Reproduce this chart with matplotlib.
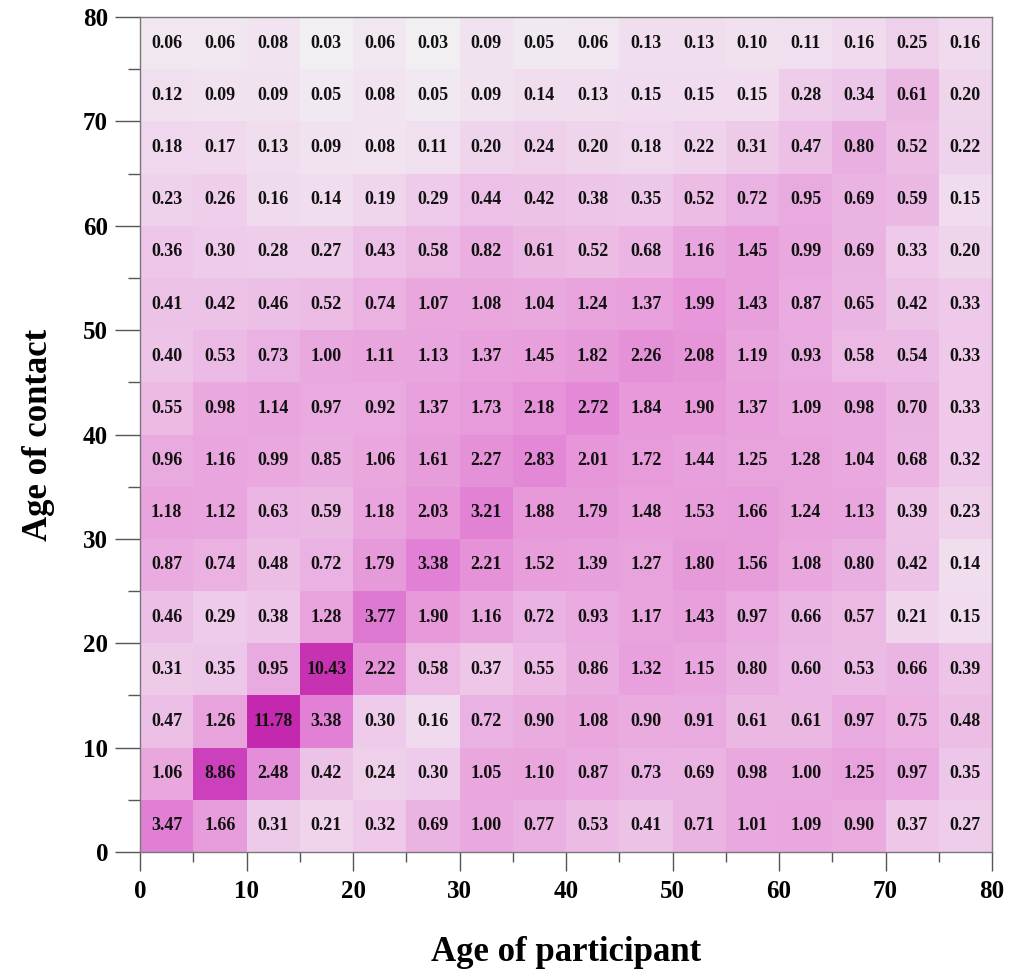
import numpy as np
import matplotlib
matplotlib.use('Agg')
import matplotlib.pyplot as plt
from matplotlib.colors import LinearSegmentedColormap, LogNorm

# rows from top (age of contact 75-80) to bottom (0-5)
contact_edges = np.arange(0, 85, 5)
participant_edges = np.arange(0, 85, 5)

rows_top_down = [
    [0.06, 0.06, 0.08, 0.03, 0.06, 0.03, 0.09, 0.05, 0.06, 0.13, 0.13, 0.10, 0.11, 0.16, 0.25, 0.16],
    [0.12, 0.09, 0.09, 0.05, 0.08, 0.05, 0.09, 0.14, 0.13, 0.15, 0.15, 0.15, 0.28, 0.34, 0.61, 0.20],
    [0.18, 0.17, 0.13, 0.09, 0.08, 0.11, 0.20, 0.24, 0.20, 0.18, 0.22, 0.31, 0.47, 0.80, 0.52, 0.22],
    [0.23, 0.26, 0.16, 0.14, 0.19, 0.29, 0.44, 0.42, 0.38, 0.35, 0.52, 0.72, 0.95, 0.69, 0.59, 0.15],
    [0.36, 0.30, 0.28, 0.27, 0.43, 0.58, 0.82, 0.61, 0.52, 0.68, 1.16, 1.45, 0.99, 0.69, 0.33, 0.20],
    [0.41, 0.42, 0.46, 0.52, 0.74, 1.07, 1.08, 1.04, 1.24, 1.37, 1.99, 1.43, 0.87, 0.65, 0.42, 0.33],
    [0.40, 0.53, 0.73, 1.00, 1.11, 1.13, 1.37, 1.45, 1.82, 2.26, 2.08, 1.19, 0.93, 0.58, 0.54, 0.33],
    [0.55, 0.98, 1.14, 0.97, 0.92, 1.37, 1.73, 2.18, 2.72, 1.84, 1.90, 1.37, 1.09, 0.98, 0.70, 0.33],
    [0.96, 1.16, 0.99, 0.85, 1.06, 1.61, 2.27, 2.83, 2.01, 1.72, 1.44, 1.25, 1.28, 1.04, 0.68, 0.32],
    [1.18, 1.12, 0.63, 0.59, 1.18, 2.03, 3.21, 1.88, 1.79, 1.48, 1.53, 1.66, 1.24, 1.13, 0.39, 0.23],
    [0.87, 0.74, 0.48, 0.72, 1.79, 3.38, 2.21, 1.52, 1.39, 1.27, 1.80, 1.56, 1.08, 0.80, 0.42, 0.14],
    [0.46, 0.29, 0.38, 1.28, 3.77, 1.90, 1.16, 0.72, 0.93, 1.17, 1.43, 0.97, 0.66, 0.57, 0.21, 0.15],
    [0.31, 0.35, 0.95, 10.43, 2.22, 0.58, 0.37, 0.55, 0.86, 1.32, 1.15, 0.80, 0.60, 0.53, 0.66, 0.39],
    [0.47, 1.26, 11.78, 3.38, 0.30, 0.16, 0.72, 0.90, 1.08, 0.90, 0.91, 0.61, 0.61, 0.97, 0.75, 0.48],
    [1.06, 8.86, 2.48, 0.42, 0.24, 0.30, 1.05, 1.10, 0.87, 0.73, 0.69, 0.98, 1.00, 1.25, 0.97, 0.35],
    [3.47, 1.66, 0.31, 0.21, 0.32, 0.69, 1.00, 0.77, 0.53, 0.41, 0.71, 1.01, 1.09, 0.90, 0.37, 0.27],
]
matrix = np.array(rows_top_down[::-1])  # row 0 = contact age 0-5

plt.rcParams['font.family'] = ['Liberation Serif', 'DejaVu Serif']
plt.rcParams['font.weight'] = 'bold'

# white -> magenta, positions chosen on a log scale
cmap = LinearSegmentedColormap.from_list('pinks', [
    (0.00, '#f2eff2'),
    (0.27, '#f0dcee'),
    (0.43, '#edc4e8'),
    (0.59, '#e9a8de'),
    (0.70, '#e798da'),
    (0.80, '#e07ed4'),
    (0.95, '#cc42bc'),
    (1.00, '#c428ae'),
])
norm = LogNorm(vmin=0.03, vmax=11.78)

fig = plt.figure(figsize=(10.09, 9.74), dpi=100)
ax = fig.add_axes([0.1388, 0.1253, 0.8444, 0.8572])
ax.pcolormesh(participant_edges, contact_edges, matrix, cmap=cmap, norm=norm)

for i in range(matrix.shape[0]):
    for j in range(matrix.shape[1]):
        xc = (participant_edges[j] + participant_edges[j + 1]) / 2
        yc = (contact_edges[i] + contact_edges[i + 1]) / 2
        ax.text(xc, yc, '%.2f' % matrix[i, j], ha='center', va='center',
                fontsize=13, fontweight='bold', color='#111111')

ax.set_xlim(0, 80)
ax.set_ylim(0, 80)
ax.set_xticks(np.arange(0, 90, 10))
ax.set_yticks(np.arange(0, 90, 10))
ax.set_xticks(np.arange(5, 80, 10), minor=True)
ax.set_yticks(np.arange(5, 80, 10), minor=True)
ax.tick_params(axis='both', which='both', direction='out', color='#555555', width=1)
ax.tick_params(axis='x', which='major', length=14, pad=6, labelsize=18)
ax.tick_params(axis='x', which='minor', length=7)
ax.tick_params(axis='y', which='major', length=18, pad=5, labelsize=18)
ax.tick_params(axis='y', which='minor', length=9)
ax.tick_params(top=False, right=False)
for lab in ax.get_xticklabels() + ax.get_yticklabels():
    lab.set_fontweight('bold')
for s in ax.spines.values():
    s.set_color('#777777')
    s.set_linewidth(1)

ax.set_xlabel('Age of participant', fontsize=25, fontweight='bold', labelpad=24)
ax.set_ylabel('Age of contact', fontsize=25, fontweight='bold', labelpad=20)

plt.savefig('out.png', dpi=100)
